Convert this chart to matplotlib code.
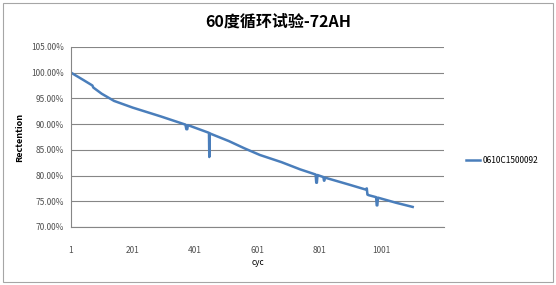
import matplotlib.pyplot as plt
from matplotlib.patches import Rectangle
from matplotlib.ticker import FixedLocator, FuncFormatter

plt.rcParams['font.family'] = ['Noto Sans CJK SC', 'DejaVu Sans']

# 循环数与容量保持率 (%)，拐点读自原图
cycles = [1, 40, 70, 73, 100, 140, 200, 290, 330, 370, 373, 376, 378,
          446, 447, 448, 510, 560, 610, 680, 740, 790, 792, 794, 796,
          815, 817, 818, 820, 900, 950, 955, 957, 960, 985, 987, 989, 991,
          1050, 1103]
retention = [100.0, 98.6, 97.5, 97.1, 95.9, 94.5, 93.2, 91.5, 90.7, 89.9, 89.0, 89.0, 89.8,
             88.3, 83.6, 88.2, 86.7, 85.3, 84.0, 82.6, 81.2, 80.2, 78.6, 78.6, 80.1,
             79.7, 79.0, 79.0, 79.6, 78.2, 77.3, 77.5, 76.3, 76.2, 75.8, 74.2, 74.2, 75.7,
             74.7, 73.9]
series_name = "0610C1500092"
x_ticks = [1, 201, 401, 601, 801, 1001]
y_ticks = [70, 75, 80, 85, 90, 95, 100, 105]

fig = plt.figure(figsize=(5.56, 2.85), dpi=100)
fig.patches.append(Rectangle((3 / 556, 3 / 285), 550 / 556, 279 / 285,
                             transform=fig.transFigure, fill=False,
                             edgecolor="#a6a6a6", linewidth=0.8))

ax = fig.add_axes([71 / 556, 1 - 227 / 285, 373 / 556, (227 - 46.9) / 285])
ax.plot(cycles, retention, color="#4a7ebb", linewidth=1.8, label=series_name,
        solid_joinstyle="round")

ax.set_xlim(1, 1204)
ax.set_ylim(70, 105)
ax.yaxis.set_major_locator(FixedLocator(y_ticks))
ax.yaxis.set_major_formatter(FuncFormatter(lambda v, _: f"{v:.2f}%"))
ax.xaxis.set_major_locator(FixedLocator(x_ticks))
ax.grid(True, axis="y", color="#868686", linewidth=0.8)
ax.set_axisbelow(True)
for side in ["top", "right"]:
    ax.spines[side].set_visible(False)
for side in ["left", "bottom"]:
    ax.spines[side].set_color("#868686")
    ax.spines[side].set_linewidth(0.8)
ax.tick_params(length=0, labelsize=6, colors="#505050", pad=5)
ax.tick_params(axis="x", pad=14)

ax.set_xlabel("cyc", fontsize=6, labelpad=2)
ax.set_ylabel("Rectention", fontsize=6.5, fontweight="bold", labelpad=5)

fig.text(0.5, 0.925, "60度循环试验-72AH", ha="center", va="center",
         fontsize=11.5, fontweight="bold")

leg = ax.legend(loc="center left", bbox_to_anchor=(1.04, 0.37), frameon=False,
                fontsize=6, handlelength=1.6, handletextpad=0.3)

fig.savefig("out.png", dpi=100)
